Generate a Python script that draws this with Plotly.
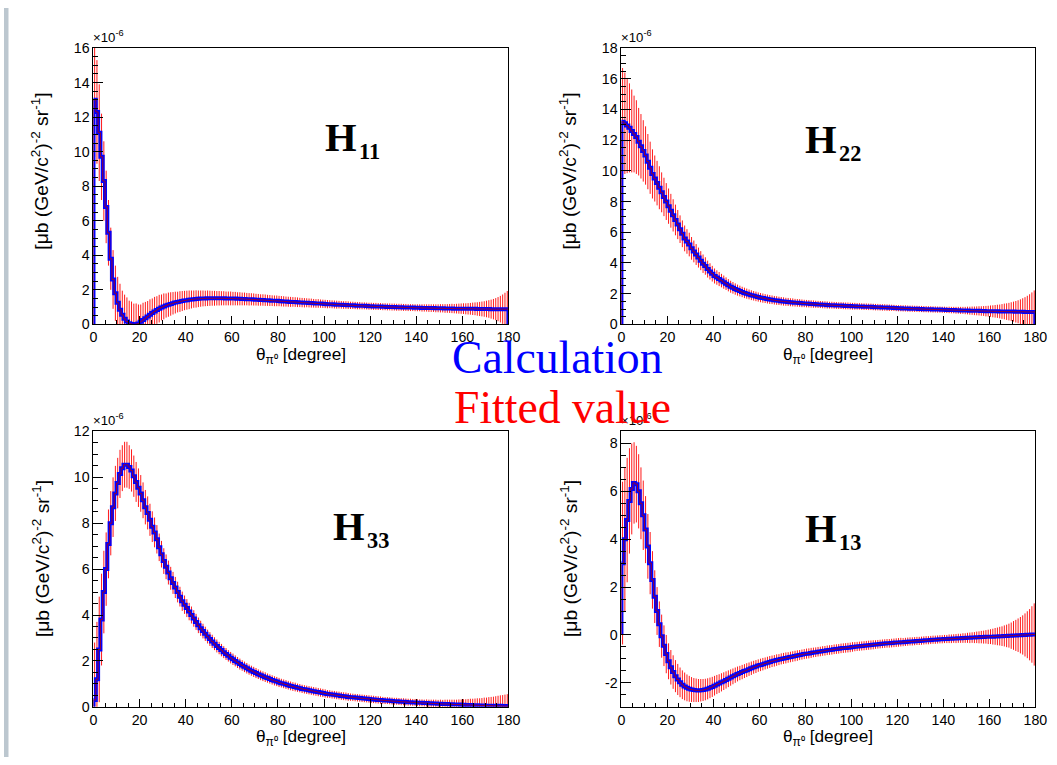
import plotly.graph_objects as go

# ---------------- data (values in units of 1e-6, 1-degree bins 0..180) ----------------
H11_calc = [
    13.0, 12.3, 11.1, 9.7, 8.3, 6.8, 5.3, 3.8, 2.6, 1.8,
    1.25, 0.85, 0.55, 0.32, 0.16, 0.07, 0.02, 0.0, 0.01, 0.05,
    0.15, 0.25, 0.35, 0.45, 0.55, 0.65, 0.74, 0.83, 0.91, 0.98,
    1.04, 1.09, 1.14, 1.18, 1.22, 1.26, 1.29, 1.32, 1.35, 1.38,
    1.40, 1.42, 1.44, 1.46, 1.47, 1.48, 1.49, 1.50, 1.50, 1.51,
    1.51, 1.51, 1.51, 1.51, 1.51, 1.51, 1.51, 1.50, 1.50, 1.50,
    1.49, 1.49, 1.48, 1.48, 1.47, 1.47, 1.46, 1.45, 1.45, 1.44,
    1.43, 1.42, 1.41, 1.41, 1.40, 1.39, 1.38, 1.37, 1.36, 1.36,
    1.35, 1.34, 1.33, 1.32, 1.31, 1.30, 1.30, 1.29, 1.28, 1.27,
    1.26, 1.25, 1.25, 1.24, 1.23, 1.22, 1.21, 1.21, 1.20, 1.19,
    1.18, 1.17, 1.17, 1.16, 1.15, 1.14, 1.14, 1.13, 1.12, 1.12,
    1.11, 1.10, 1.10, 1.09, 1.08, 1.08, 1.07, 1.07, 1.06, 1.05,
    1.05, 1.04, 1.04, 1.03, 1.03, 1.02, 1.02, 1.01, 1.01, 1.00,
    1.00, 0.99, 0.99, 0.99, 0.98, 0.98, 0.97, 0.97, 0.97, 0.96,
    0.96, 0.96, 0.95, 0.95, 0.95, 0.94, 0.94, 0.94, 0.93, 0.93,
    0.93, 0.93, 0.92, 0.92, 0.92, 0.92, 0.91, 0.91, 0.91, 0.91,
    0.91, 0.90, 0.90, 0.90, 0.90, 0.90, 0.89, 0.89, 0.89, 0.89,
    0.89, 0.89, 0.88, 0.88, 0.88, 0.88, 0.88, 0.88, 0.88, 0.88,
]
H11_err = [
    3.3, 3.0, 2.8, 2.5, 2.3, 2.1, 1.9, 1.8, 1.7, 1.6,
    1.5, 1.5, 1.4, 1.4, 1.4, 1.3, 1.3, 1.2, 1.2, 1.1,
    1.0, 1.0, 0.95, 0.9, 0.9, 0.85, 0.85, 0.8, 0.8, 0.75,
    0.75, 0.7, 0.7, 0.68, 0.65, 0.63, 0.6, 0.6, 0.58, 0.56,
    0.55, 0.54, 0.52, 0.5, 0.5, 0.48, 0.47, 0.46, 0.45, 0.45,
    0.44, 0.43, 0.43, 0.42, 0.42, 0.41, 0.41, 0.4, 0.4, 0.4,
    0.39, 0.39, 0.38, 0.38, 0.37, 0.37, 0.36, 0.36, 0.35, 0.35,
    0.34, 0.34, 0.33, 0.33, 0.33, 0.32, 0.32, 0.31, 0.31, 0.31,
    0.3, 0.3, 0.3, 0.29, 0.29, 0.29, 0.28, 0.28, 0.28, 0.27,
    0.27, 0.27, 0.26, 0.26, 0.26, 0.25, 0.25, 0.25, 0.24, 0.24,
    0.24, 0.24, 0.23, 0.23, 0.23, 0.23, 0.22, 0.22, 0.22, 0.22,
    0.22, 0.21, 0.21, 0.21, 0.21, 0.21, 0.2, 0.2, 0.2, 0.2,
    0.2, 0.2, 0.2, 0.2, 0.2, 0.2, 0.2, 0.2, 0.2, 0.2,
    0.2, 0.2, 0.2, 0.2, 0.2, 0.2, 0.2, 0.2, 0.2, 0.2,
    0.2, 0.2, 0.21, 0.21, 0.21, 0.22, 0.22, 0.22, 0.23, 0.23,
    0.24, 0.24, 0.25, 0.25, 0.26, 0.27, 0.27, 0.28, 0.29, 0.3,
    0.31, 0.32, 0.33, 0.34, 0.36, 0.37, 0.39, 0.41, 0.43, 0.45,
    0.48, 0.51, 0.55, 0.59, 0.64, 0.7, 0.77, 0.85, 0.95, 1.05,
]

H22_calc = [
    13.2, 13.1, 12.95, 12.8, 12.6, 12.4, 12.2, 11.9, 11.6, 11.3,
    11.0, 10.6, 10.2, 9.8, 9.5, 9.2, 8.9, 8.6, 8.3, 8.0,
    7.7, 7.4, 7.1, 6.8, 6.5, 6.2, 5.9, 5.6, 5.4, 5.2,
    4.95, 4.75, 4.55, 4.35, 4.15, 3.95, 3.8, 3.6, 3.45, 3.3,
    3.15, 3.05, 2.95, 2.85, 2.75, 2.65, 2.55, 2.45, 2.38, 2.3,
    2.23, 2.17, 2.11, 2.05, 2.0, 1.95, 1.9, 1.86, 1.82, 1.78,
    1.74, 1.71, 1.68, 1.65, 1.62, 1.6, 1.57, 1.55, 1.53, 1.51,
    1.49, 1.47, 1.46, 1.44, 1.43, 1.41, 1.4, 1.39, 1.37, 1.36,
    1.35, 1.34, 1.33, 1.32, 1.31, 1.3, 1.29, 1.28, 1.27, 1.26,
    1.25, 1.25, 1.24, 1.23, 1.22, 1.22, 1.21, 1.2, 1.2, 1.19,
    1.18, 1.18, 1.17, 1.17, 1.16, 1.15, 1.15, 1.14, 1.14, 1.13,
    1.12, 1.12, 1.11, 1.1, 1.1, 1.09, 1.08, 1.08, 1.07, 1.06,
    1.05, 1.05, 1.04, 1.04, 1.03, 1.02, 1.02, 1.01, 1.01, 1.0,
    1.0, 0.99, 0.99, 0.98, 0.98, 0.97, 0.97, 0.96, 0.96, 0.95,
    0.95, 0.94, 0.94, 0.93, 0.93, 0.92, 0.92, 0.91, 0.91, 0.9,
    0.9, 0.89, 0.89, 0.88, 0.88, 0.88, 0.87, 0.87, 0.86, 0.86,
    0.86, 0.85, 0.85, 0.85, 0.84, 0.84, 0.84, 0.83, 0.83, 0.83,
    0.83, 0.82, 0.82, 0.82, 0.82, 0.81, 0.81, 0.81, 0.81, 0.81,
]
H22_err = [
    3.5, 3.3, 3.1, 2.9, 2.7, 2.5, 2.4, 2.2, 2.1, 2.0,
    1.9, 1.8, 1.7, 1.6, 1.5, 1.45, 1.4, 1.3, 1.25, 1.2,
    1.15, 1.1, 1.05, 1.0, 0.95, 0.9, 0.87, 0.84, 0.8, 0.77,
    0.74, 0.71, 0.68, 0.65, 0.62, 0.6, 0.57, 0.55, 0.53, 0.51,
    0.49, 0.47, 0.46, 0.44, 0.43, 0.41, 0.4, 0.39, 0.38, 0.37,
    0.36, 0.35, 0.34, 0.34, 0.33, 0.32, 0.32, 0.31, 0.31, 0.3,
    0.3, 0.3, 0.29, 0.29, 0.29, 0.28, 0.28, 0.28, 0.27, 0.27,
    0.27, 0.26, 0.26, 0.26, 0.26, 0.25, 0.25, 0.25, 0.25, 0.24,
    0.24, 0.24, 0.24, 0.24, 0.23, 0.23, 0.23, 0.23, 0.23, 0.23,
    0.22, 0.22, 0.22, 0.22, 0.22, 0.22, 0.22, 0.22, 0.22, 0.22,
    0.22, 0.22, 0.21, 0.21, 0.21, 0.21, 0.21, 0.21, 0.21, 0.21,
    0.21, 0.21, 0.21, 0.21, 0.21, 0.21, 0.21, 0.2, 0.2, 0.2,
    0.2, 0.2, 0.2, 0.2, 0.2, 0.2, 0.2, 0.2, 0.2, 0.2,
    0.2, 0.2, 0.2, 0.2, 0.2, 0.2, 0.2, 0.2, 0.2, 0.2,
    0.2, 0.2, 0.21, 0.21, 0.21, 0.22, 0.22, 0.23, 0.23, 0.24,
    0.25, 0.26, 0.27, 0.28, 0.29, 0.3, 0.31, 0.32, 0.34, 0.35,
    0.37, 0.39, 0.41, 0.43, 0.45, 0.48, 0.51, 0.54, 0.57, 0.61,
    0.65, 0.7, 0.75, 0.81, 0.88, 0.96, 1.05, 1.15, 1.27, 1.4,
]

H33_calc = [
    0.3, 1.2, 2.5, 3.8, 5.0, 6.0, 7.1, 8.0, 8.7, 9.3,
    9.75, 10.15, 10.4, 10.55, 10.55, 10.45, 10.3, 10.05, 9.8, 9.55,
    9.3, 9.0, 8.7, 8.45, 8.15, 7.85, 7.6, 7.3, 6.95, 6.65,
    6.35, 6.1, 5.85, 5.6, 5.4, 5.2, 5.0, 4.8, 4.6, 4.45,
    4.3, 4.15, 4.0, 3.85, 3.7, 3.55, 3.42, 3.3, 3.18, 3.06,
    2.95, 2.85, 2.75, 2.65, 2.56, 2.47, 2.38, 2.3, 2.22, 2.14,
    2.07, 2.0, 1.93, 1.86, 1.8, 1.74, 1.68, 1.62, 1.57, 1.52,
    1.47, 1.42, 1.37, 1.33, 1.29, 1.25, 1.21, 1.17, 1.13, 1.1,
    1.06, 1.03, 1.0, 0.97, 0.94, 0.91, 0.88, 0.86, 0.83, 0.81,
    0.78, 0.76, 0.74, 0.72, 0.7, 0.68, 0.66, 0.64, 0.62, 0.6,
    0.58, 0.56, 0.55, 0.53, 0.52, 0.5, 0.49, 0.47, 0.46, 0.45,
    0.43, 0.42, 0.41, 0.4, 0.39, 0.38, 0.37, 0.36, 0.35, 0.34,
    0.33, 0.32, 0.31, 0.3, 0.29, 0.28, 0.27, 0.27, 0.26, 0.25,
    0.24, 0.24, 0.23, 0.22, 0.22, 0.21, 0.2, 0.2, 0.19, 0.19,
    0.18, 0.17, 0.17, 0.16, 0.16, 0.15, 0.15, 0.14, 0.14, 0.13,
    0.13, 0.12, 0.12, 0.12, 0.11, 0.11, 0.1, 0.1, 0.1, 0.09,
    0.09, 0.08, 0.08, 0.08, 0.07, 0.07, 0.07, 0.06, 0.06, 0.06,
    0.05, 0.05, 0.05, 0.04, 0.04, 0.04, 0.04, 0.03, 0.03, 0.03,
]
H33_err = [
    2.5, 2.5, 2.3, 2.0, 1.8, 1.6, 1.5, 1.4, 1.3, 1.2,
    1.1, 1.05, 1.0, 1.0, 1.0, 0.95, 0.92, 0.9, 0.87, 0.84,
    0.8, 0.78, 0.75, 0.72, 0.7, 0.67, 0.65, 0.62, 0.6, 0.58,
    0.56, 0.54, 0.52, 0.5, 0.48, 0.46, 0.45, 0.43, 0.42, 0.4,
    0.39, 0.38, 0.37, 0.36, 0.35, 0.34, 0.33, 0.32, 0.31, 0.3,
    0.3, 0.29, 0.28, 0.28, 0.27, 0.27, 0.26, 0.26, 0.25, 0.25,
    0.25, 0.24, 0.24, 0.24, 0.23, 0.23, 0.23, 0.22, 0.22, 0.22,
    0.22, 0.21, 0.21, 0.21, 0.21, 0.2, 0.2, 0.2, 0.2, 0.2,
    0.2, 0.19, 0.19, 0.19, 0.19, 0.19, 0.19, 0.19, 0.18, 0.18,
    0.18, 0.18, 0.18, 0.18, 0.18, 0.18, 0.18, 0.18, 0.18, 0.18,
    0.18, 0.17, 0.17, 0.17, 0.17, 0.17, 0.17, 0.17, 0.17, 0.17,
    0.17, 0.16, 0.16, 0.16, 0.16, 0.16, 0.16, 0.16, 0.16, 0.16,
    0.16, 0.16, 0.16, 0.16, 0.16, 0.15, 0.15, 0.15, 0.15, 0.15,
    0.15, 0.15, 0.15, 0.15, 0.15, 0.15, 0.15, 0.15, 0.15, 0.15,
    0.15, 0.15, 0.15, 0.15, 0.16, 0.16, 0.16, 0.17, 0.17, 0.17,
    0.18, 0.18, 0.19, 0.19, 0.2, 0.2, 0.21, 0.21, 0.22, 0.23,
    0.24, 0.25, 0.26, 0.27, 0.28, 0.29, 0.3, 0.31, 0.32, 0.34,
    0.35, 0.37, 0.38, 0.4, 0.42, 0.44, 0.46, 0.48, 0.5, 0.52,
]

H13_calc = [
    3.0, 4.0, 4.8, 5.6, 6.1, 6.35, 6.3, 6.0, 5.5, 5.0,
    4.4, 3.7, 3.0, 2.3, 1.6, 1.0, 0.45, -0.05, -0.45, -0.8,
    -1.1, -1.35, -1.55, -1.72, -1.86, -1.98, -2.08, -2.15, -2.21, -2.25,
    -2.28, -2.3, -2.31, -2.32, -2.31, -2.3, -2.28, -2.25, -2.21, -2.17,
    -2.12, -2.07, -2.03, -1.98, -1.93, -1.88, -1.83, -1.78, -1.73, -1.68,
    -1.63, -1.59, -1.55, -1.51, -1.47, -1.43, -1.39, -1.35, -1.32, -1.28,
    -1.25, -1.22, -1.19, -1.16, -1.13, -1.1, -1.08, -1.05, -1.03, -1.0,
    -0.98, -0.96, -0.94, -0.92, -0.9, -0.88, -0.86, -0.84, -0.82, -0.8,
    -0.78, -0.77, -0.75, -0.73, -0.72, -0.7, -0.69, -0.67, -0.66, -0.64,
    -0.63, -0.62, -0.6, -0.59, -0.58, -0.56, -0.55, -0.54, -0.53, -0.52,
    -0.5, -0.49, -0.48, -0.47, -0.46, -0.45, -0.44, -0.43, -0.42, -0.41,
    -0.4, -0.39, -0.38, -0.37, -0.36, -0.35, -0.35, -0.34, -0.33, -0.32,
    -0.31, -0.3, -0.3, -0.29, -0.28, -0.27, -0.27, -0.26, -0.25, -0.25,
    -0.24, -0.23, -0.22, -0.22, -0.21, -0.2, -0.2, -0.19, -0.18, -0.18,
    -0.17, -0.17, -0.16, -0.16, -0.15, -0.15, -0.14, -0.14, -0.13, -0.13,
    -0.12, -0.12, -0.11, -0.11, -0.1, -0.1, -0.09, -0.09, -0.08, -0.08,
    -0.07, -0.07, -0.06, -0.06, -0.05, -0.05, -0.04, -0.04, -0.03, -0.03,
    -0.02, -0.02, -0.01, -0.01, 0.0, 0.0, 0.01, 0.01, 0.02, 0.02,
]
H13_err = [
    3.4, 3.0, 2.6, 2.2, 1.9, 1.7, 1.6, 1.55, 1.5, 1.45,
    1.4, 1.35, 1.3, 1.2, 1.1, 1.0, 0.95, 0.9, 0.85, 0.8,
    0.75, 0.72, 0.7, 0.67, 0.65, 0.62, 0.6, 0.58, 0.56, 0.54,
    0.52, 0.5, 0.49, 0.48, 0.47, 0.46, 0.45, 0.44, 0.43, 0.42,
    0.41, 0.4, 0.39, 0.38, 0.37, 0.36, 0.35, 0.34, 0.33, 0.32,
    0.31, 0.3, 0.3, 0.29, 0.29, 0.28, 0.28, 0.27, 0.27, 0.26,
    0.26, 0.26, 0.25, 0.25, 0.25, 0.24, 0.24, 0.24, 0.23, 0.23,
    0.23, 0.23, 0.22, 0.22, 0.22, 0.22, 0.22, 0.21, 0.21, 0.21,
    0.21, 0.21, 0.21, 0.2, 0.2, 0.2, 0.2, 0.2, 0.2, 0.2,
    0.2, 0.2, 0.2, 0.2, 0.2, 0.2, 0.2, 0.2, 0.2, 0.2,
    0.2, 0.19, 0.19, 0.19, 0.19, 0.19, 0.19, 0.19, 0.19, 0.19,
    0.18, 0.18, 0.18, 0.18, 0.18, 0.18, 0.18, 0.18, 0.18, 0.18,
    0.18, 0.18, 0.17, 0.17, 0.17, 0.17, 0.17, 0.17, 0.17, 0.17,
    0.17, 0.17, 0.17, 0.17, 0.17, 0.17, 0.17, 0.17, 0.17, 0.17,
    0.17, 0.17, 0.18, 0.18, 0.18, 0.19, 0.19, 0.19, 0.2, 0.2,
    0.21, 0.22, 0.22, 0.23, 0.24, 0.25, 0.26, 0.27, 0.28, 0.3,
    0.31, 0.33, 0.35, 0.37, 0.39, 0.41, 0.44, 0.47, 0.5, 0.55,
    0.6, 0.65, 0.7, 0.76, 0.82, 0.9, 0.98, 1.07, 1.18, 1.3,
]

PANEL_LABELS = ["11", "22", "33", "13"]
Y_RANGES = [(0, 16), (0, 18), (0, 12), (-3, 8.5)]
Y_TICKS = [list(range(0, 17, 2)), list(range(0, 19, 2)), list(range(0, 13, 2)), list(range(-2, 9, 2))]
X_TICKS = list(range(0, 181, 20))
SERIES = [(H11_calc, H11_err), (H22_calc, H22_err), (H33_calc, H33_err), (H13_calc, H13_err)]

# ---------------- layout geometry ----------------
W, H = 1057, 765
# The page is shown slightly shifted/scaled in the final picture; map target
# picture pixels to figure pixels.
OX, SX = 3.5, 0.985
OY, SY = 7.0, 0.978
# plot frames in target picture pixels: (left, right, top, bottom)
FRAMES = [(93, 508, 47, 323), (621, 1035, 47, 323), (93, 508, 430, 705), (621, 1035, 430, 705)]
H_POS = [(323, 136), (803, 138), (331, 525), (803, 527)]
YLABEL_Y = [170, 170, 557, 557]
FS = 1.0 / SX  # font compensation


def px(x):
    return ((x - OX) / SX) / W


def py(y):
    return 1 - ((y - OY) / SY) / H


fig = go.Figure()
layout = dict(
    width=W, height=H, margin=dict(l=0, r=0, t=0, b=0), autosize=False,
    paper_bgcolor="white", plot_bgcolor="white", showlegend=False, hovermode=False,
    font=dict(family="Liberation Sans, Arial, sans-serif", color="black"),
)
annotations = []
shapes = [
    dict(type="rect", xref="paper", yref="paper", x0=0, x1=px(8), y0=0, y1=1,
         fillcolor="#bcc7cf", line=dict(width=0), layer="below"),
]

for i, ((vals, errs), (l, r, t, b)) in enumerate(zip(SERIES, FRAMES)):
    k = "" if i == 0 else str(i + 1)
    xa, ya = "x" + k, "y" + k
    nb = len(vals)
    edges = list(range(nb))
    centers = [e + 0.5 for e in edges]
    step_x = [0] + edges + [nb, nb]
    step_y = [0] + list(vals) + [vals[-1], 0]

    # fitted values: error bars
    fig.add_trace(go.Scatter(
        x=centers, y=vals, mode="markers", xaxis=xa, yaxis=ya,
        marker=dict(size=1, color="red"),
        error_y=dict(type="data", array=errs, visible=True, color="rgba(255,0,0,0.9)",
                     thickness=1, width=0),
    ))
    # calculation: thick blue histogram
    fig.add_trace(go.Scatter(
        x=step_x, y=step_y, mode="lines", line_shape="hv", xaxis=xa, yaxis=ya,
        line=dict(color="#0000ff", width=4),
    ))
    # fitted values central line
    fig.add_trace(go.Scatter(
        x=step_x, y=step_y, mode="lines", line_shape="hv", xaxis=xa, yaxis=ya,
        line=dict(color="rgb(150,0,50)", width=1),
    ))

    yt = Y_TICKS[i]
    common = dict(showline=True, linecolor="black", linewidth=1, mirror=True,
                  showgrid=False, zeroline=False, ticks="inside", tickcolor="black",
                  tickfont=dict(size=14 * FS, color="black", family="Liberation Sans, Arial, sans-serif"))
    layout["xaxis" + k] = dict(
        domain=[px(l), px(r)], anchor=ya, range=[0, 180],
        tickmode="array", tickvals=X_TICKS, ticktext=[str(v) for v in X_TICKS],
        ticklen=8, minor=dict(tickmode="linear", tick0=0, dtick=5, ticks="inside",
                              ticklen=4, tickcolor="black", showgrid=False),
        **common)
    layout["yaxis" + k] = dict(
        domain=[py(b), py(t)], anchor=xa, range=list(Y_RANGES[i]),
        tickmode="array", tickvals=yt, ticktext=[str(v) for v in yt],
        ticklen=10, minor=dict(tickmode="linear", tick0=0, dtick=0.5, ticks="inside",
                               ticklen=5, tickcolor="black", showgrid=False),
        **common)

    # axis titles
    annotations.append(dict(
        text="θ<sub>π⁰</sub> [degree]", xref="paper", yref="paper",
        x=px((l + r) / 2), y=py(b + 31), xanchor="center", yanchor="middle",
        showarrow=False, font=dict(size=17 * FS, color="black")))
    annotations.append(dict(
        text="[μb (GeV/c<sup>2</sup>)<sup>-2</sup> sr<sup>-1</sup>]", xref="paper", yref="paper",
        x=px(l - 53), y=py(YLABEL_Y[i]), xanchor="center", yanchor="middle", textangle=-90,
        showarrow=False, font=dict(size=19 * FS, color="black")))
    # exponent
    annotations.append(dict(
        text="×10<sup>-6</sup>", xref="paper", yref="paper",
        x=px(l - 2), y=py(t - 1), xanchor="left", yanchor="bottom",
        showarrow=False, font=dict(size=13 * FS, color="black")))
    # H label
    hx, hy = H_POS[i]
    annotations.append(dict(
        text="<b>H</b>", xref="paper", yref="paper", x=px(hx), y=py(hy),
        xanchor="left", yanchor="middle", showarrow=False,
        font=dict(size=40 * FS, color="black", family="Liberation Serif, Times New Roman, serif")))
    annotations.append(dict(
        text="<b>" + PANEL_LABELS[i] + "</b>", xref="paper", yref="paper", x=px(hx + 34), y=py(hy + 14),
        xanchor="left", yanchor="middle", showarrow=False,
        font=dict(size=22 * FS, color="black", family="Liberation Serif, Times New Roman, serif")))

annotations.append(dict(
    text="Calculation", xref="paper", yref="paper", x=px(557), y=py(356),
    xanchor="center", yanchor="middle", showarrow=False,
    font=dict(size=45 * FS, color="#0000ff", family="Liberation Serif, Times New Roman, serif")))
annotations.append(dict(
    text="Fitted value", xref="paper", yref="paper", x=px(562), y=py(406),
    xanchor="center", yanchor="middle", showarrow=False,
    font=dict(size=45 * FS, color="#ff0000", family="Liberation Serif, Times New Roman, serif")))

layout["annotations"] = annotations
layout["shapes"] = shapes
fig.update_layout(**layout)
fig.write_html("out.html", config={"displayModeBar": False})
